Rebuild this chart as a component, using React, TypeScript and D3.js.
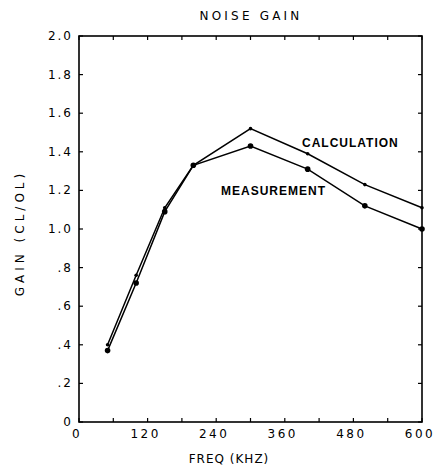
import React, { useRef, useEffect } from 'react';
import * as d3 from 'd3';

const freqs = [50, 100, 150, 200, 300, 400, 500, 600];
const calculation = [0.40, 0.76, 1.11, 1.33, 1.52, 1.39, 1.23, 1.11];
const measurement = [0.37, 0.72, 1.09, 1.33, 1.43, 1.31, 1.12, 1.0];
const xTickLabels = [0, 120, 240, 360, 480, 600];
const yTickLabels = ['0', '.2', '.4', '.6', '.8', '1.0', '1.2', '1.4', '1.6', '1.8', '2.0'];

const W = 436;
const H = 466;

const App: React.FC = () => {
    const svgRef = useRef<SVGSVGElement | null>(null);

    useEffect(() => {
        if (!svgRef.current) return;
        const svg = d3.select(svgRef.current);
        svg.selectAll('*').remove();

        const left = 79, right = 422, top = 36, bottom = 422;
        const x = d3.scaleLinear().domain([0, 600]).range([left, right]);
        const y = d3.scaleLinear().domain([0, 2]).range([bottom, top]);
        const font = "'DejaVu Sans', sans-serif";
        const bold = "'Liberation Sans', Arial, sans-serif";

        // frame
        svg.append('rect')
            .attr('x', left).attr('y', top)
            .attr('width', right - left).attr('height', bottom - top)
            .attr('fill', 'none').attr('stroke', '#000').attr('stroke-width', 1.6);

        // ticks, pointing inwards on all four sides
        const tk = 4;
        const xt = d3.range(0, 601, 60);
        const yt = d3.range(0, 2.01, 0.2);
        const ticks = svg.append('g').attr('stroke', '#000').attr('stroke-width', 1.2);
        xt.forEach(v => {
            ticks.append('line').attr('x1', x(v)).attr('x2', x(v)).attr('y1', bottom).attr('y2', bottom - tk);
            ticks.append('line').attr('x1', x(v)).attr('x2', x(v)).attr('y1', top).attr('y2', top + tk);
        });
        yt.forEach(v => {
            ticks.append('line').attr('x1', left).attr('x2', left + tk).attr('y1', y(v)).attr('y2', y(v));
            ticks.append('line').attr('x1', right).attr('x2', right - tk).attr('y1', y(v)).attr('y2', y(v));
        });

        // tick labels
        svg.append('g').selectAll('text').data(xTickLabels).enter().append('text')
            .attr('x', d => x(d) - 2).attr('y', 438)
            .attr('text-anchor', 'middle')
            .style('font-family', font).style('font-size', '12px').style('letter-spacing', '2.5px')
            .text(d => String(d));

        svg.append('g').selectAll('text').data(yTickLabels).enter().append('text')
            .attr('x', 73).attr('y', (d, i) => y(i * 0.2) + 4)
            .attr('text-anchor', 'end')
            .style('font-family', font).style('font-size', '12px').style('letter-spacing', '2px')
            .text(d => d);

        // titles
        svg.append('text').attr('x', 251).attr('y', 20).attr('text-anchor', 'middle')
            .style('font-family', font).style('font-size', '12px').style('letter-spacing', '3.2px')
            .text('NOISE GAIN');
        svg.append('text').attr('x', 229).attr('y', 463).attr('text-anchor', 'middle')
            .style('font-family', font).style('font-size', '12px').style('letter-spacing', '1px')
            .text('FREQ (KHZ)');
        svg.append('text')
            .attr('transform', `translate(24, 233) rotate(-90)`)
            .attr('text-anchor', 'middle')
            .style('font-family', font).style('font-size', '12px').style('letter-spacing', '4px')
            .text('GAIN (CL/OL)');

        // series
        const line = d3.line<number>().x((d, i) => x(freqs[i])).y(d => y(d));
        const series = [
            { values: calculation, r: 1.8 },
            { values: measurement, r: 2.8 },
        ];
        series.forEach(s => {
            svg.append('path').datum(s.values)
                .attr('d', line)
                .attr('fill', 'none').attr('stroke', '#000').attr('stroke-width', 1.5);
            svg.append('g').selectAll('circle').data(s.values).enter().append('circle')
                .attr('cx', (d, i) => x(freqs[i])).attr('cy', d => y(d))
                .attr('r', s.r).attr('fill', '#000');
        });

        // series labels
        svg.append('text').attr('x', 302).attr('y', 147)
            .style('font-family', bold).style('font-size', '12px').style('font-weight', 'bold')
            .style('letter-spacing', '1px')
            .text('CALCULATION');
        svg.append('text').attr('x', 221).attr('y', 195)
            .style('font-family', bold).style('font-size', '12px').style('font-weight', 'bold')
            .style('letter-spacing', '1px')
            .text('MEASUREMENT');
    }, []);

    return (
        <svg ref={svgRef} width={W} height={H}
            style={{ position: 'absolute', left: 0, top: 0, background: '#fff' }} />
    );
};

export default App;
